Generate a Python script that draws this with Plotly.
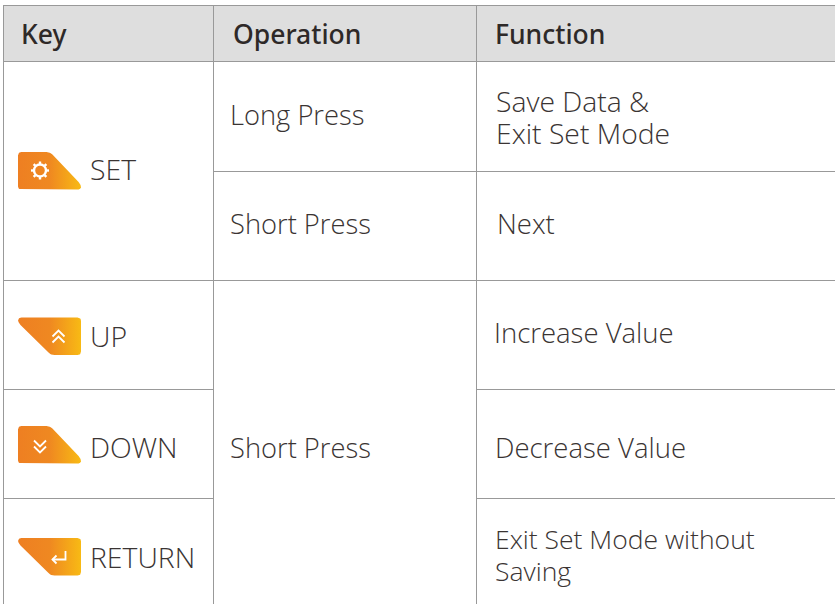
import math
import plotly.graph_objects as go

headers = ["Key", "Operation", "Function"]
keys = ["SET", "UP", "DOWN", "RETURN"]
operations = ["Long Press", "Short Press", "Short Press"]
functions = [["Save Data &", "Exit Set Mode"], ["Next"], ["Increase Value"], ["Decrease Value"],
             ["Exit Set Mode without", "Saving"]]

W, H = 835, 604
LINE = "#999999"
TEXT = "#3a3433"
FONT = "Open Sans"

fig = go.Figure()


def line(x0, y0, x1, y1):
    fig.add_shape(type="line", x0=x0, y0=y0, x1=x1, y1=y1,
                  line=dict(color=LINE, width=1), layer="above")


fig.add_shape(type="rect", x0=4, y0=5, x1=W, y1=61, fillcolor="#dedede", line_width=0, layer="below")
for y, x0, x1 in [(5, 4, W), (61, 4, W), (171, 213, W), (280, 4, W),
                  (389, 4, 213), (389, 476, W), (498, 4, 213), (498, 476, W)]:
    line(x0, y + 0.5, x1, y + 0.5)
for x, y0, y1 in [(3, 5, H), (213, 5, H), (476, 5, H)]:
    line(x + 0.5, y0, x + 0.5, y1)


def rounded(pts, r=4):
    out_x, out_y = [], []
    n = len(pts)
    for i, (x, y) in enumerate(pts):
        px, py = pts[i - 1]
        nx, ny = pts[(i + 1) % n]
        a = math.hypot(px - x, py - y)
        b = math.hypot(nx - x, ny - y)
        ax, ay = x + (px - x) / a * r, y + (py - y) / a * r
        bx, by = x + (nx - x) / b * r, y + (ny - y) / b * r
        for k in range(7):
            t = k / 6
            out_x.append((1 - t) ** 2 * ax + 2 * t * (1 - t) * x + t * t * bx)
            out_y.append((1 - t) ** 2 * ay + 2 * t * (1 - t) * y + t * t * by)
    return out_x + out_x[:1], out_y + out_y[:1]


def badge(top, cut_top):
    bottom = top + 37.5
    if cut_top:
        pts = [(18, top), (50, top), (81, bottom - 5), (81, bottom), (18, bottom)]
    else:
        pts = [(18, top), (81, top), (81, bottom), (51, bottom), (18, top + 5)]
    xs, ys = rounded(pts, 3.5)
    fig.add_trace(go.Scatter(
        x=xs, y=ys, mode="lines", fill="toself", line=dict(width=0), hoverinfo="skip",
        fillgradient=dict(type="horizontal", colorscale=[[0, "#ee7f22"], [0.5, "#ef8821"], [1, "#f8ba14"]]),
    ))


def stroke(xs, ys, w=1.8):
    fig.add_trace(go.Scatter(x=xs, y=ys, mode="lines", hoverinfo="skip",
                             line=dict(color="white", width=w)))


for top, cut in [(152, True), (317.5, False), (426, True), (538, False)]:
    badge(top, cut)

# gear
cx, cy = 40, 170.5
fig.add_shape(type="circle", x0=cx - 6, y0=cy - 6, x1=cx + 6, y1=cy + 6,
              line=dict(color="white", width=2.4), layer="above")
for k in range(8):
    a = k * math.pi / 4
    stroke([cx + 6.5 * math.cos(a), cx + 9 * math.cos(a)],
           [cy + 6.5 * math.sin(a), cy + 9 * math.sin(a)], 2.4)

# double chevrons
cx, cy = 58.5, 337
for d in (-4.5, 1.5):
    stroke([cx - 6, cx, cx + 6], [cy + d + 4, cy + d - 2, cy + d + 4])
cx, cy = 40, 446
for d in (-1.5, 4.5):
    stroke([cx - 6, cx, cx + 6], [cy + d - 4, cy + d + 2, cy + d - 4])

# return arrow
cx, cy = 59, 558
stroke([cx + 6.5, cx + 6.5, cx - 6.5], [cy - 7, cy + 1.5, cy + 1.5])
stroke([cx - 2.5, cx - 6.5, cx - 2.5], [cy - 2.5, cy + 1.5, cy + 5.5])


def label(x, y, text, size=27.3, weight=300, family=FONT, color=TEXT):
    fig.add_annotation(x=x, y=y, text=text, showarrow=False, xanchor="left", yanchor="middle", align="left",
                       xshift=-2, font=dict(family=family, size=size, color=color, weight=weight))


for x, t in zip([21, 233, 495], headers):
    label(x, 34, t, 26.5, 500, "Noto Sans", "#2e2928")
for y, t in zip([168.5, 336, 447, 557], keys):
    label(89.5, y, t, 28.4)
for y, t in zip([114.5, 223.5, 447], operations):
    label(230, y, t)
# the annotation's base size sets the 32 px line pitch of the two-line cells
for (x, y), lines in zip([(495.5, 116.5), (496.5, 223.5), (494, 332.5), (495, 447), (495, 554.5)], functions):
    size = 26.5 if "without" in lines[0] else 28.3
    if len(lines) > 1:
        text = "<br>".join(f'<span style="font-size:{size}px">{t}</span>' for t in lines)
        label(x, y, text, 24.6)
    else:
        label(x, y, lines[0], 27.5)

fig.update_layout(
    width=W, height=H, margin=dict(l=0, r=0, t=0, b=0), showlegend=False,
    paper_bgcolor="white", plot_bgcolor="white",
    xaxis=dict(range=[0, W], visible=False, fixedrange=True),
    yaxis=dict(range=[H, 0], visible=False, fixedrange=True),
)
fig.write_html("out.html", config=dict(displayModeBar=False),
               post_script="document.body.style.margin='0';document.documentElement.style.overflow='hidden';")
